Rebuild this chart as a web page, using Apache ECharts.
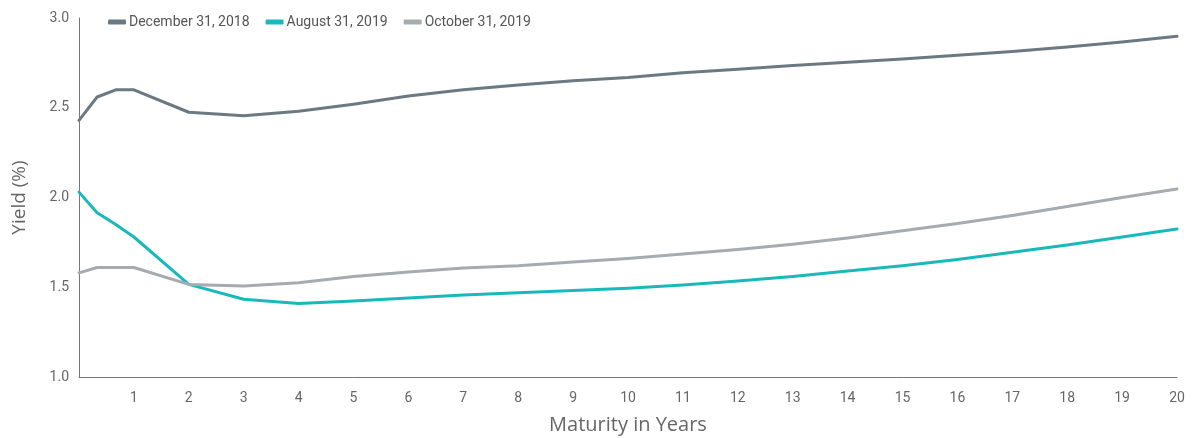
<!DOCTYPE html>
<html>
<head>
<meta charset="utf-8">
<script src="https://cdn.jsdelivr.net/npm/echarts@6/dist/echarts.min.js"></script>
<style>
  html, body { margin: 0; padding: 0; background: #fff; }
  #chart { width: 1193px; height: 438px; }
</style>
</head>
<body>
<div id="chart"></div>
<script>
// maturities in years
const maturities = [0, 0.33, 0.67, 1, 2, 3, 4, 5, 6, 7, 8, 9, 10, 11, 12, 13, 14, 15, 16, 17, 18, 19, 20];

const dec2018 = [2.43, 2.56, 2.60, 2.60, 2.475, 2.456, 2.48, 2.52, 2.565, 2.60, 2.627, 2.65, 2.668, 2.695, 2.715, 2.735, 2.754, 2.772, 2.792, 2.814, 2.838, 2.866, 2.898];
const aug2019 = [2.03, 1.915, 1.85, 1.78, 1.516, 1.433, 1.41, 1.423, 1.44, 1.457, 1.47, 1.482, 1.495, 1.512, 1.535, 1.56, 1.59, 1.62, 1.655, 1.695, 1.735, 1.78, 1.825];
const oct2019 = [1.58, 1.61, 1.61, 1.61, 1.516, 1.507, 1.525, 1.56, 1.585, 1.607, 1.62, 1.64, 1.66, 1.685, 1.71, 1.74, 1.775, 1.815, 1.855, 1.90, 1.95, 2.0, 2.047];

const seriesNames = ['December 31, 2018', 'August 31, 2019', 'October 31, 2019'];
const seriesColors = ['#6b7983', '#19b9b9', '#a4abb1'];

const font = 'Roboto, sans-serif';

function pairs(values) {
  return maturities.map((m, i) => [m, values[i]]);
}

const chart = echarts.init(document.getElementById('chart'));

chart.setOption({
  animation: false,
  grid: { left: 79, right: 16, top: 18, bottom: 61, outerBoundsMode: 'none', containLabel: false },
  legend: {
    left: 103,
    top: 10,
    itemWidth: 18,
    itemHeight: 5,
    itemGap: 16,
    icon: 'roundRect',
    textStyle: { fontFamily: font, fontSize: 14, color: '#555', padding: [0, 0, 0, -2] },
    data: seriesNames
  },
  xAxis: {
    type: 'value',
    min: 0,
    max: 20,
    interval: 1,
    name: 'Maturity in Years',
    nameLocation: 'middle',
    nameGap: 38,
    nameTextStyle: { fontFamily: '"Open Sans", sans-serif', fontSize: 20, color: '#666' },
    axisLine: { lineStyle: { color: '#777', width: 1 } },
    axisTick: { show: false },
    splitLine: { show: false },
    axisLabel: {
      margin: 14,
      fontFamily: font,
      fontSize: 14,
      color: '#666',
      formatter: v => (v === 0 ? '' : String(v))
    }
  },
  yAxis: {
    type: 'value',
    min: 1,
    max: 3,
    interval: 0.5,
    name: 'Yield (%)',
    nameLocation: 'middle',
    nameGap: 50,
    nameTextStyle: { fontFamily: '"Open Sans", sans-serif', fontSize: 19, color: '#666' },
    axisLine: { show: true, lineStyle: { color: '#777', width: 1 } },
    axisTick: { show: false },
    splitLine: { show: false },
    axisLabel: {
      margin: 10,
      fontFamily: font,
      fontSize: 14,
      color: '#666',
      formatter: v => v.toFixed(1)
    }
  },
  series: [dec2018, aug2019, oct2019].map((vals, i) => ({
    name: seriesNames[i],
    type: 'line',
    data: pairs(vals),
    showSymbol: false,
    symbol: 'none',
    color: seriesColors[i],
    lineStyle: { width: 3, color: seriesColors[i], cap: 'round', join: 'round' }
  }))
});
</script>
</body>
</html>
